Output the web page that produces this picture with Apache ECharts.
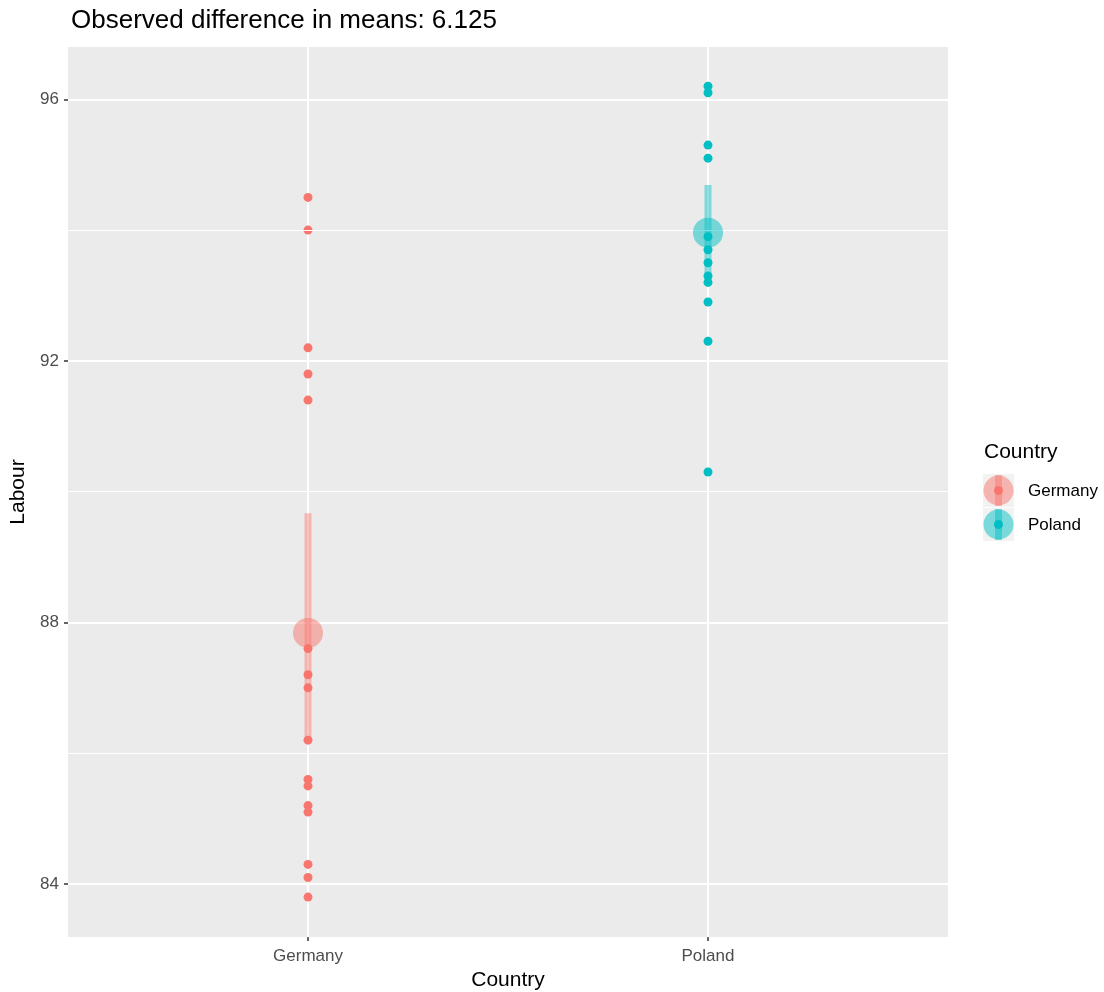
<!DOCTYPE html>
<html>
<head>
<meta charset="utf-8">
<script src="https://cdn.jsdelivr.net/npm/echarts@6/dist/echarts.min.js"></script>
<style>
  html, body { margin: 0; padding: 0; background: #fff; }
  #main { width: 1104px; height: 992px; }
</style>
</head>
<body>
<div id="main"></div>
<script>
var chart = echarts.init(document.getElementById('main'));

var countries = ['Germany', 'Poland'];
var colors = ['#F8766D', '#00BFC4'];
var germany = [94.5, 94.0, 92.2, 91.8, 91.4, 87.6, 87.2, 87.0, 86.2, 85.6, 85.5, 85.2, 85.1, 84.3, 84.1, 83.8];
var poland = [96.2, 96.1, 95.3, 95.1, 93.9, 93.7, 93.5, 93.3, 93.2, 92.9, 92.3, 90.3];
var means = [87.84, 93.96];
var lower = [86.2, 93.2];
var upper = [89.67, 94.69];
var yTicks = [84, 88, 92, 96];
var yMinor = [86, 90, 94];

var font = 'Liberation Sans, Arial, sans-serif';
var groups = [germany, poland];

var series = [];
// minor grid lines
series.push({
    type: 'scatter', data: [], z: 1, silent: true,
    markLine: {
        silent: true, symbol: 'none', label: { show: false },
        lineStyle: { color: '#fff', width: 1, type: 'solid' },
        data: yMinor.map(function (v) { return { yAxis: v }; })
    }
});
groups.forEach(function (vals, i) {
    series.push({
        name: countries[i], type: 'scatter', z: 3,
        symbolSize: 9,
        itemStyle: { color: colors[i], opacity: 1 },
        data: vals.map(function (v) { return [i + 1, v]; })
    });
    series.push({
        type: 'line', z: 4, showSymbol: false, silent: true,
        lineStyle: { color: colors[i], width: 7, opacity: 0.45, cap: 'butt' },
        data: [[i + 1, lower[i]], [i + 1, upper[i]]]
    });
    series.push({
        type: 'scatter', z: 5, symbolSize: 30, silent: true,
        itemStyle: { color: colors[i], opacity: 0.5 },
        data: [[i + 1, means[i]]]
    });
});

function legendKey(i, top) {
    return [
        { type: 'rect', shape: { x: 983, y: top, width: 31, height: 33 }, style: { fill: '#F2F2F2' } },
        { type: 'rect', shape: { x: 995, y: top + 1, width: 7, height: 31 }, style: { fill: colors[i], opacity: 0.45 } },
        { type: 'circle', shape: { cx: 998.5, cy: top + 16.5, r: 15 }, style: { fill: colors[i], opacity: 0.5 } },
        { type: 'circle', shape: { cx: 998.5, cy: top + 16.5, r: 4.5 }, style: { fill: colors[i] } },
        { type: 'text', x: 1028, y: top + 17, style: { text: countries[i], font: '17px ' + font, fill: '#000', verticalAlign: 'middle' } }
    ];
}

var option = {
    backgroundColor: '#fff',
    animation: false,
    title: {
        text: 'Observed difference in means: 6.125',
        left: 66, top: 3,
        textStyle: { fontFamily: font, fontSize: 26, fontWeight: 'normal', color: '#000' }
    },
    grid: {
        left: 68, top: 47, width: 880, height: 890,
        outerBoundsMode: 'none',
        show: true, backgroundColor: '#EBEBEB', borderWidth: 0
    },
    xAxis: {
        type: 'value', min: 0.4, max: 2.6,
        name: 'Country', nameLocation: 'middle', nameGap: 33,
        nameTextStyle: { fontFamily: font, fontSize: 21, color: '#000' },
        axisLine: { show: false },
        axisTick: { show: true, length: 4, customValues: [1, 2], lineStyle: { color: '#333', width: 1.5 } },
        axisLabel: {
            customValues: [1, 2], margin: 11,
            fontFamily: font, fontSize: 17, color: '#4D4D4D',
            formatter: function (v) { return countries[Math.round(v) - 1]; }
        },
        splitLine: { show: true, lineStyle: { color: '#fff', width: 2 } }
    },
    yAxis: {
        type: 'value', min: 83.19, max: 96.8,
        name: 'Labour', nameLocation: 'middle', nameGap: 38, nameRotate: 90,
        nameTextStyle: { fontFamily: font, fontSize: 21, color: '#000' },
        axisLine: { show: false },
        axisTick: { show: true, length: 4, customValues: yTicks, lineStyle: { color: '#333', width: 1.5 } },
        axisLabel: {
            customValues: yTicks, margin: 9,
            fontFamily: font, fontSize: 17, color: '#4D4D4D'
        },
        splitLine: { show: true, lineStyle: { color: '#fff', width: 2 } }
    },
    graphic: [
        { type: 'text', x: 984, y: 452, style: { text: 'Country', font: '21px ' + font, fill: '#000', verticalAlign: 'middle' } }
    ].concat(legendKey(0, 474), legendKey(1, 508)),
    series: series
};

chart.setOption(option);
</script>
</body>
</html>
